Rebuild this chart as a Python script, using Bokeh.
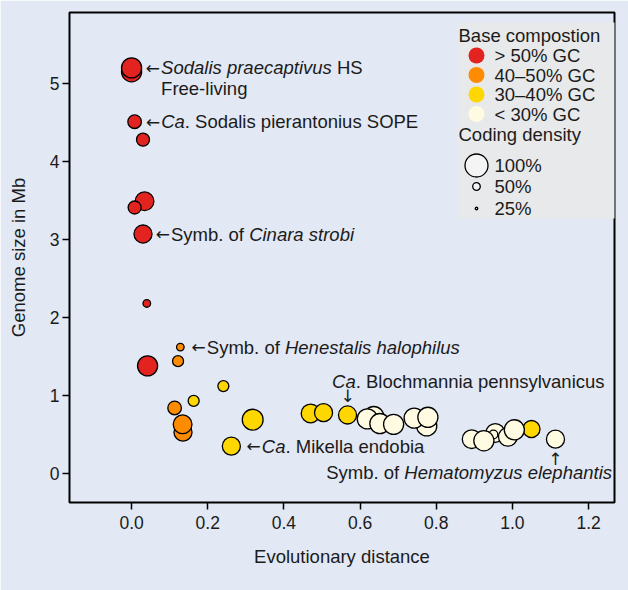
from bokeh.plotting import figure
from bokeh.models import Range1d, Label, FixedTicker, PrintfTickFormatter, ColumnDataSource
from bokeh.embed import file_html
from bokeh.resources import INLINE

# ---------------- data ----------------
evo_distance = [0.000, 0.000, 0.008, 0.030, 0.034, 0.008, 0.030, 0.040, 0.042,
                0.128, 0.122, 0.113, 0.135, 0.134,
                0.241, 0.163, 0.318, 0.262, 0.470, 0.504, 0.567, 1.050,
                0.636, 0.619, 0.652, 0.688, 0.775, 0.742, 0.778,
                0.955, 0.950, 0.893, 0.925, 0.988, 1.005, 1.113]
genome_mb = [5.15, 5.20, 4.51, 4.28, 3.49, 3.41, 3.07, 2.18, 1.38,
             1.62, 1.44, 0.84, 0.53, 0.63,
             1.12, 0.93, 0.69, 0.35, 0.77, 0.78, 0.75, 0.57,
             0.73, 0.70, 0.64, 0.63, 0.61, 0.71, 0.72,
             0.52, 0.50, 0.44, 0.42, 0.47, 0.56, 0.44]
gc_class = [0, 0, 0, 0, 0, 0, 0, 0, 0,
            1, 1, 1, 1, 1,
            2, 2, 2, 2, 2, 2, 2, 2,
            3, 3, 3, 3, 3, 3, 3,
            3, 3, 3, 3, 3, 3, 3]
coding_density = [92, 92, 72, 70, 88, 70, 86, 50, 92,
                  50, 63, 72, 86, 88,
                  63, 63, 94, 86, 88, 86, 86, 83,
                  92, 92, 92, 92, 92, 92, 92,
                  88, 55, 88, 92, 88, 92, 86]

gc_labels = ["> 50% GC", "40\u201350% GC", "30\u201340% GC", "< 30% GC"]
gc_colors = ["#e32320", "#ff8c00", "#ffd700", "#fffbe3"]
density_legend = [100, 50, 25]
density_labels = ["100%", "50%", "25%"]
x_ticks = [0.0, 0.2, 0.4, 0.6, 0.8, 1.0, 1.2]
y_ticks = [0, 1, 2, 3, 4, 5]

# ---------------- style helpers ----------------
FONT = "Liberation Sans"
ARROW_FONT = "DejaVu Sans"
FS = 18.5
TXT = "#1b1b1b"
BG = "#e2e8f4"

X0, X1 = -0.163, 1.268
Y0, Y1 = -0.372, 5.91
FL, FT = 69, 12          # frame left / top in page px
FRAME_W, FRAME_H = 545, 490
SX = FRAME_W / (X1 - X0)
SY = FRAME_H / (Y1 - Y0)


def dia(c):
    return 23.0 * (c / 100.0) ** 1.6


W = dict(zip("abcdefghijklmnopqrstuvwxyz",
             [556, 556, 500, 556, 556, 278, 556, 556, 222, 222, 500, 222, 833,
              556, 556, 556, 556, 333, 500, 278, 556, 500, 722, 500, 500, 500]))
W.update(dict(zip("ABCDEFGHIJKLMNOPQRSTUVWXYZ",
                  [667, 667, 722, 722, 667, 611, 778, 722, 278, 500, 667, 556, 833,
                   722, 778, 667, 778, 722, 667, 611, 722, 667, 944, 667, 667, 611])))
W.update({" ": 278, ".": 278, "-": 333, "%": 889, ">": 584, "<": 584, "\u2013": 556})
for d in "0123456789":
    W[d] = 556


def tw(s, fs=FS):
    return sum(W.get(ch, 556) for ch in s) * fs / 1000.0


p = figure(width=628, height=590, x_range=Range1d(X0, X1), y_range=Range1d(Y0, Y1),
           output_backend="svg", toolbar_location=None,
           min_border_left=FL, min_border_right=628 - FL - FRAME_W,
           min_border_top=FT, min_border_bottom=590 - FT - FRAME_H)
p.background_fill_color = BG
p.border_fill_color = BG
p.outline_line_color = "black"
p.outline_line_width = 2
p.xgrid.visible = False
p.ygrid.visible = False

for ax in (p.xaxis[0], p.yaxis[0]):
    ax.axis_line_color = None
    ax.major_tick_line_color = "black"
    ax.major_tick_line_width = 1.5
    ax.major_tick_out = 7
    ax.major_tick_in = 0
    ax.minor_tick_out = 0
    ax.minor_tick_in = 0
    ax.major_label_text_font = FONT
    ax.major_label_text_font_size = "17.5px"
    ax.major_label_text_color = TXT
    ax.axis_label_text_font = FONT
    ax.axis_label_text_font_size = "18.5px"
    ax.axis_label_text_font_style = "normal"
    ax.axis_label_text_color = TXT

p.xaxis.ticker = FixedTicker(ticks=x_ticks)
p.xaxis.formatter = PrintfTickFormatter(format="%.1f")
p.yaxis.ticker = FixedTicker(ticks=y_ticks)
p.xaxis.axis_label = "Evolutionary distance"
p.yaxis.axis_label = "Genome size in Mb"
p.xaxis.major_label_standoff = 6
p.xaxis.axis_label_standoff = 14
p.yaxis.major_label_standoff = 3
p.yaxis.axis_label_standoff = 18

# ---------------- points ----------------
src = ColumnDataSource(dict(
    x=evo_distance, y=genome_mb,
    color=[gc_colors[g] for g in gc_class],
    size=[dia(c) for c in coding_density],
))
p.scatter("x", "y", source=src, size="size", fill_color="color",
          line_color="black", line_width=1.3)


# ---------------- annotations ----------------
def lab(x, y, text, dx=0, dy=0, italic=False, align="left", fs=FS, font=FONT):
    p.add_layout(Label(x=x + dx / SX, y=y + dy / SY, text=text, text_font=font,
                       text_font_size=f"{fs}px",
                       text_font_style="italic" if italic else "normal",
                       text_baseline="middle", text_align=align, text_color=TXT))


def rich(i, segs, dx, dy=0, align="left", arrow=False):
    x, y = evo_distance[i], genome_mb[i]
    total = sum(tw(t) for t, _ in segs)
    start = dx if align == "left" else dx - total
    cur = start
    for t, it in segs:
        lab(x, y, t, cur, dy, it)
        cur += tw(t)
    if arrow:
        lab(x, y, "\u2190", start - 1, dy, align="right", font=ARROW_FONT, fs=17)


rich(1, [("Sodalis praecaptivus ", True), ("HS", False)], 29.5, 0, arrow=True)
rich(1, [("Free-living", False)], 29.5, -21)
rich(2, [("Ca", True), (". Sodalis pierantonius SOPE", False)], 26.5, 0, arrow=True)
rich(6, [("Symb. of ", False), ("Cinara strobi", True)], 28, 0, arrow=True)
rich(9, [("Symb. of ", False), ("Henestalis halophilus", True)], 26.5, 0, arrow=True)
rich(17, [("Ca", True), (". Mikella endobia", False)], 30.5, 0, arrow=True)
rich(20, [("Ca", True), (". Blochmannia pennsylvanicus", False)], -15.5, 33.5)
lab(evo_distance[20], genome_mb[20], "\u2193", 0, 19, align="center", font=ARROW_FONT, fs=17)
rich(35, [("Symb. of ", False), ("Hematomyzus elephantis", True)], 56.5, -33, align="right")
lab(evo_distance[35], genome_mb[35], "\u2191", 0, -20, align="center", font=ARROW_FONT, fs=17)


# ---------------- legend (layout given in page px) ----------------
def fx(px):
    return X0 + (px - FL) / SX


def fy(py):
    return Y1 - (py - FT) / SY


p.quad(left=[fx(457)], right=[fx(616)], top=[fy(22)], bottom=[fy(218)],
       fill_color="#e7e9ea", line_color=None)
lab(fx(458), fy(35), "Base compostion")
row_y = [55, 74.5, 94, 113.5]
p.scatter([fx(476)] * 4, [fy(v) for v in row_y], size=16, fill_color=gc_colors, line_color=None)
for lbl, v in zip(gc_labels, row_y):
    lab(fx(494), fy(v), lbl)
lab(fx(458), fy(134), "Coding density")
size_y = [165, 186, 208]
p.scatter([fx(476)] * 3, [fy(v) for v in size_y], size=[dia(c) for c in density_legend],
          fill_color="#f4f4f4", line_color="black", line_width=1.3)
for lbl, v in zip(density_labels, size_y):
    lab(fx(494), fy(v), lbl)

lab(fx(624), fy(578), "Current Biology", align="right", fs=15)

open("out.html", "w").write(file_html(p, INLINE))
